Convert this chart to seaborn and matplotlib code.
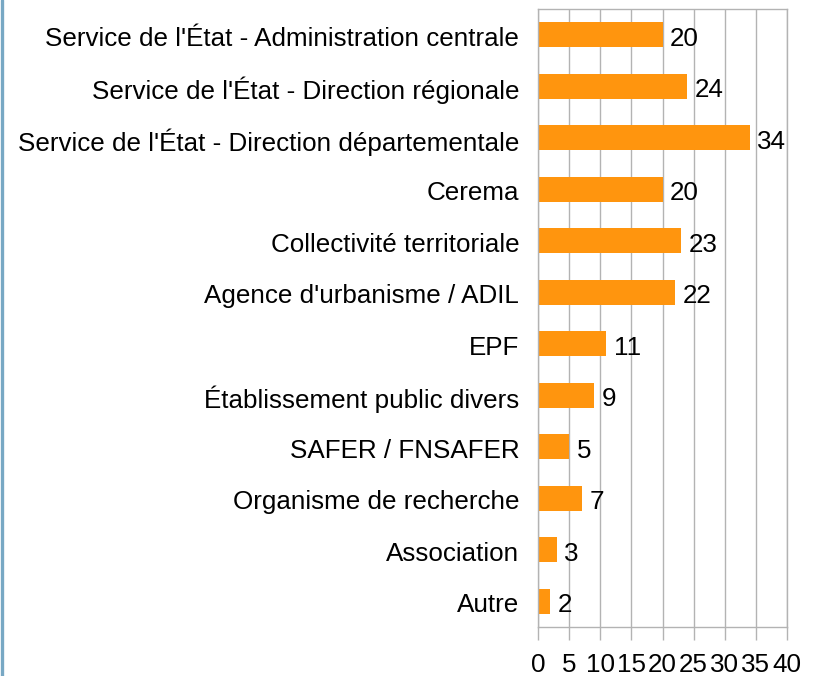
import numpy as np
import pandas as pd
import matplotlib
matplotlib.use("Agg")
import matplotlib.pyplot as plt
import matplotlib.lines as mlines
import matplotlib.transforms as mtransforms
import seaborn as sns

# --- Data ---
categories = [
    "Service de l'État - Administration centrale",
    "Service de l'État - Direction régionale",
    "Service de l'État - Direction départementale",
    "Cerema",
    "Collectivité territoriale",
    "Agence d'urbanisme / ADIL",
    "EPF",
    "Établissement public divers",
    "SAFER / FNSAFER",
    "Organisme de recherche",
    "Association",
    "Autre",
]
values = [20, 24, 34, 20, 23, 22, 11, 9, 5, 7, 3, 2]
x_ticks = [0, 5, 10, 15, 20, 25, 30, 35, 40]

BAR_COLOR = "#ff950e"
GRID_COLOR = "#b3b3b3"
FONT_SIZE = 18.7

sns.set_theme(style="white")
plt.rcParams['font.family'] = ['Liberation Sans', 'DejaVu Sans']
plt.rcParams['text.color'] = 'black'
plt.rcParams['xtick.labelcolor'] = 'black'
plt.rcParams['ytick.labelcolor'] = 'black'

df = pd.DataFrame({"Catégorie": categories, "Nombre": values})

fig = plt.figure(figsize=(8.2, 6.76), dpi=100)
ax = fig.add_axes([538 / 820, 49 / 676, 249 / 820, 618 / 676])

sns.barplot(data=df, x="Nombre", y="Catégorie", orient="h", color=BAR_COLOR,
            width=0.49, saturation=1, linewidth=0, ax=ax, zorder=2)

ax.set_xlim(0, 40)
ax.set_ylim(len(categories) - 0.5, -0.5)
ax.set_xticks(x_ticks)
ax.set_xticklabels([str(t) for t in x_ticks], fontsize=FONT_SIZE)
ax.xaxis.grid(True, color=GRID_COLOR, linewidth=1, zorder=0)
ax.set_axisbelow(True)

# category labels on major ticks (no marks), boundary marks as minor ticks
ax.set_yticks(range(len(categories)))
ax.set_yticklabels(categories, fontsize=FONT_SIZE)
ax.tick_params(axis="y", which="major", length=0, pad=13.5)
ax.set_yticks(np.arange(-0.5, len(categories), 1), minor=True)
ax.tick_params(axis="y", which="minor", length=7.5, color=GRID_COLOR, width=1)
ax.tick_params(axis="x", which="major", length=9, color=GRID_COLOR, width=1,
               direction="out", pad=10, bottom=True)

shift = mtransforms.ScaledTranslation(0, -1.2 / 72, fig.dpi_scale_trans)
for lbl in ax.get_yticklabels():
    lbl.set_transform(lbl.get_transform() + shift)

for s in ax.spines.values():
    s.set_color(GRID_COLOR)
    s.set_linewidth(1)

ax.set_xlabel("")
ax.set_ylabel("")

# value labels to the right of each bar
for p, v in zip(ax.patches, values):
    ax.annotate(str(v), (p.get_width(), p.get_y() + p.get_height() / 2),
                xytext=(5.5, -1.2), textcoords="offset points",
                ha="left", va="center_baseline", fontsize=FONT_SIZE, color="black")

# thin coloured border on the left edge of the image
fig.add_artist(mlines.Line2D([0.002, 0.002], [0, 1], transform=fig.transFigure,
                             color="#78a8c4", linewidth=2.4))

fig.savefig("out.png", dpi=100)
